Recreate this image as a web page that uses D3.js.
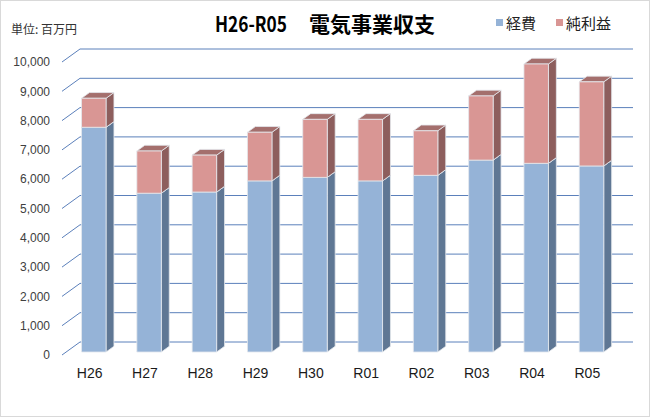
<!DOCTYPE html>
<html lang="ja">
<head>
<meta charset="UTF-8" />
<title>H26-R05 電気事業収支</title>
<script src="https://d3js.org/d3.v7.min.js"></script>
<style>
  body { margin: 0; background: #fff; }
  svg { display: block; font-family: "Liberation Sans", Arial, sans-serif; }
  .jp { font-family: "Noto Sans CJK JP", sans-serif; }
</style>
</head>
<body>
<svg id="chart" width="650" height="417"></svg>
<script>
// data (百万円)
const years = ["H26", "H27", "H28", "H29", "H30", "R01", "R02", "R03", "R04", "R05"];
const expense = [7670, 5420, 5460, 5840, 5960, 5840, 6030, 6550, 6440, 6350];
const profit = [990, 1440, 1260, 1660, 1980, 2100, 1520, 2190, 3390, 2870];
const yTicks = [0, 1000, 2000, 3000, 4000, 5000, 6000, 7000, 8000, 9000, 10000];
const seriesNames = ["経費", "純利益"];

const svg = d3.select("#chart");
const W = 650, H = 417;

// outer border
svg.append("rect").attr("x", 0.5).attr("y", 0.5)
  .attr("width", W - 1).attr("height", H - 1)
  .attr("fill", "#fff").attr("stroke", "#d9d9d9");

// oblique 3d setup
const depth = [18, -13];      // floor depth vector
const f1 = 0.23, f2 = 0.67;   // bar front / back position inside depth

const x = d3.scaleBand().domain(years).range([62, 615]).paddingInner(0.557).paddingOuter(0.2785);
const xCat = d3.scaleBand().domain(years).range([62, 615]);
const y = d3.scaleLinear().domain([0, 10000]).range([355, 62]);

// gridlines (side wall diagonal + back wall horizontal)
const grid = svg.append("g");
yTicks.forEach(t => {
  const y0 = y(t);
  grid.append("path")
    .attr("d", `M62,${y0}L${62 + depth[0]},${y0 + depth[1]}L633,${y0 + depth[1]}`)
    .attr("fill", "none").attr("stroke", "#5b80bb").attr("stroke-width", 1);
});

// y tick labels
svg.append("g").selectAll("text").data(yTicks).join("text")
  .attr("x", 50).attr("y", d => y(d)).attr("dy", "0.35em")
  .attr("text-anchor", "end").attr("font-size", 12).attr("fill", "#404040")
  .text(d => d3.format(",")(d));

// x labels
svg.append("g").selectAll("text").data(years).join("text")
  .attr("x", d => xCat(d) + xCat.bandwidth() / 2).attr("y", 378)
  .attr("text-anchor", "middle").attr("font-size", 14).attr("fill", "#1a1a1a")
  .text(d => d);

// bars
const colors = [
  { front: "#95b3d7", side: "#5f7794", top: "#7890b0" },
  { front: "#d99694", side: "#8d5e5d", top: "#a46f6d" }
];
const bars = svg.append("g");
const fx = depth[0] * f1, fy = depth[1] * f1;
const dx = depth[0] * (f2 - f1), dy = depth[1] * (f2 - f1);

years.forEach((yr, i) => {
  const segs = [[0, expense[i]], [expense[i], expense[i] + profit[i]]];
  const x0 = x(yr) + fx, x1 = x0 + x.bandwidth();
  segs.forEach(([a, b], s) => {
    const yb = y(a) + fy, yt = y(b) + fy;
    const c = colors[s];
    const g = bars.append("g").attr("stroke", "#e4e8ee").attr("stroke-width", 0.8).attr("stroke-linejoin", "round");
    // side face
    g.append("path")
      .attr("d", `M${x1},${yb}L${x1 + dx},${yb + dy}L${x1 + dx},${yt + dy}L${x1},${yt}Z`)
      .attr("fill", c.side);
    // top face
    g.append("path")
      .attr("d", `M${x0},${yt}L${x1},${yt}L${x1 + dx},${yt + dy}L${x0 + dx},${yt + dy}Z`)
      .attr("fill", c.top);
    // front face
    g.append("rect")
      .attr("x", x0).attr("y", yt).attr("width", x1 - x0).attr("height", yb - yt)
      .attr("fill", c.front);
  });
});

// title (latin part is narrow in the original)
svg.append("text").attr("class", "jp")
  .attr("x", 215).attr("y", 32).attr("font-size", 21).attr("font-weight", "bold").attr("fill", "#000")
  .attr("textLength", 72).attr("lengthAdjust", "spacingAndGlyphs")
  .text("H26-R05");
svg.append("text").attr("class", "jp")
  .attr("x", 309).attr("y", 32).attr("font-size", 21).attr("font-weight", "bold").attr("fill", "#000")
  .text("電気事業収支");

// unit
svg.append("text").attr("class", "jp")
  .attr("x", 11).attr("y", 34).attr("font-size", 12).attr("fill", "#333")
  .text("単位: 百万円");

// legend
const legX = [496, 556];
seriesNames.forEach((n, i) => {
  svg.append("rect").attr("x", legX[i]).attr("y", 19).attr("width", 7).attr("height", 7)
    .attr("fill", colors[i].front);
  svg.append("text").attr("class", "jp")
    .attr("x", legX[i] + 10).attr("y", 29).attr("font-size", 15).attr("fill", "#222")
    .text(n);
});
</script>
</body>
</html>
